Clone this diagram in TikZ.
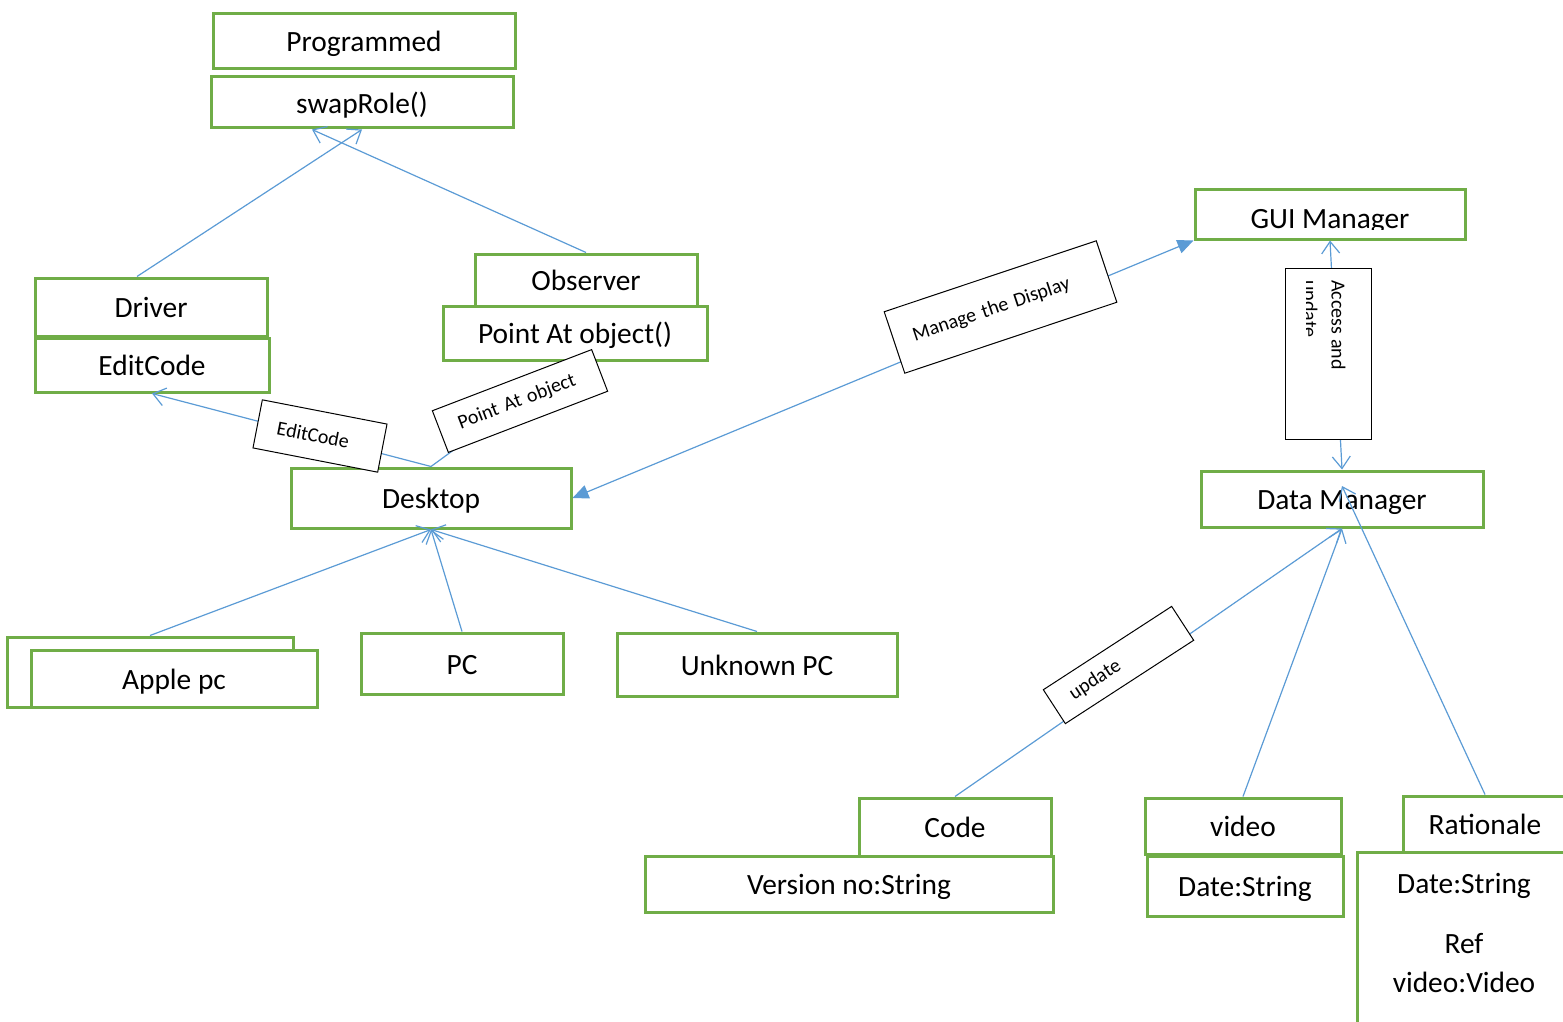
\documentclass[tikz,border=0pt]{standalone}
\usepackage{fontspec}
\setmainfont{Carlito}
\usetikzlibrary{arrows.meta}
\definecolor{boxgreen}{HTML}{70AD47}
\definecolor{linkblue}{HTML}{5B9BD5}

\begin{document}
\begin{tikzpicture}[
  x=0.5pt, y=-0.5pt,
  cls/.style={draw=boxgreen, line width=1.5pt, inner sep=0pt, fill=white, text height=11pt, text depth=0.5pt, font=\fontsize{14.7}{17.6}\selectfont},
  lbl/.style={draw=black, line width=0.5pt, fill=white, inner xsep=10pt, inner ysep=0pt, align=left, font=\fontsize{10}{12}\selectfont},
  link/.style={draw=linkblue, line width=0.6pt},
  gen/.style={link, -{Straight Barb[length=6pt, width=9pt]}},
  both/.style={link, {Straight Barb[length=6pt, width=9pt]}-{Straight Barb[length=6pt, width=9pt]}},
  nav/.style={link, {Triangle[length=8pt, width=7pt]}-{Triangle[length=8pt, width=7pt]}}
]
\useasboundingbox (0,0) rectangle (1563,1022);

% left part: programmer roles
\node[cls, minimum width=151pt, minimum height=27.5pt] (prog) at (364,41.5) {Programmed};
\node[cls, minimum width=151pt, minimum height=25.5pt] (swap) at (362,102.5) {swapRole()};
\node[cls, minimum width=116pt, minimum height=29pt] (driver) at (151,307) {Driver};
\node[cls, minimum width=117pt, minimum height=27pt] (editc) at (152,365) {EditCode};
\node[cls, minimum width=111pt, minimum height=26pt] (observer) at (586,280) {Observer};
\node[cls, minimum width=132pt, minimum height=27pt] (pao) at (575,333) {Point At object()};
\node[cls, minimum width=140pt, minimum height=30pt] (desk) at (431,498) {Desktop};
\node[cls, minimum width=143pt, minimum height=35pt] (appleback) at (150,672) {};
\node[cls, minimum width=143pt, minimum height=28.5pt] (apple) at (174,678.5) {Apple pc};
\node[cls, minimum width=101pt, minimum height=30.5pt] (pc) at (462,663.5) {PC};
\node[cls, minimum width=140pt, minimum height=31.5pt] (unk) at (757,664.5) {Unknown PC};

% right part: managers
\node[cls, minimum width=135pt, minimum height=25pt] (gui) at (1330,214) {};
\begin{scope}
  \clip (1195,189) rectangle (1465,229);
  \node[font=\fontsize{14.7}{17.6}\selectfont, anchor=base] (guitext) at (1330,228) {GUI Manager};
\end{scope}
\node[cls, minimum width=141pt, minimum height=28pt] (dm) at (1342,499) {Data Manager};
\node[cls, minimum width=96pt, minimum height=29pt] (code) at (955,827) {Code};
\node[cls, minimum width=204pt, minimum height=28pt] (ver) at (849,884) {Version no:String};
\node[cls, minimum width=98pt, minimum height=28pt] (vid) at (1243,826) {video};
\node[cls, minimum width=98pt, minimum height=30pt] (vdate) at (1245,886) {Date:String};
\node[cls, minimum width=109pt, minimum height=104pt] (ratbody) at (1466,956) {};
\node[cls, minimum width=82pt, minimum height=28pt] (rat) at (1485,824) {Rationale};
\node[font=\fontsize{14.7}{19.5}\selectfont, align=center, anchor=north, inner sep=0pt] (ratattr) at (1464,873) {Date:String\\[10.5pt]Ref\\video:Video};

% connectors
\draw[gen] ([xshift=-7pt]driver.north) -- (swap.south);
\draw[gen] (observer.north) -- ([xshift=-25pt]swap.south);
\draw[gen] (desk.north) -- (editc.south);
\draw[link] (desk.north) -- (pao.south);
\draw[nav] (desk.east) -- (gui.south west);
\draw[both] (gui.south) -- (dm.north);
\draw[gen] (appleback.north) -- (desk.south);
\draw[gen] (pc.north) -- (desk.south);
\draw[gen] (unk.north) -- (desk.south);
\draw[gen] (code.north) -- (dm.south);
\draw[gen] (vid.north) -- (dm.south);
\draw[gen] (rat.north) -- ([yshift=6.5pt]dm.center);

% connector labels
\node[lbl, text width=43.5pt, minimum height=24.5pt, rotate=-11] (lbledit) at (320,436) {EditCode};
\node[lbl, text width=65.3pt, minimum height=22.3pt, rotate=21] (lblpoint) at (520,401) {Point At object};
\node[lbl, text width=91.8pt, minimum height=32.4pt, rotate=18.5] (lbldisp) at (1000.5,307) {Manage the Display};
\node[lbl, text width=56.5pt, minimum height=20.2pt, rotate=33] (lblupd) at (1118.5,665) {update};
\node[lbl, inner sep=0pt, minimum width=85.5pt, minimum height=43pt, rotate=-90] (lblacc) at (1328,353.5) {};
\begin{scope}
  \clip (1306,268) rectangle (1371,439);
  \node[font=\fontsize{10}{14}\selectfont, rotate=-90, anchor=north west, align=left, inner sep=0pt] (acctext) at (1346,280) {Access and\\update};
\end{scope}
\end{tikzpicture}
\end{document}
